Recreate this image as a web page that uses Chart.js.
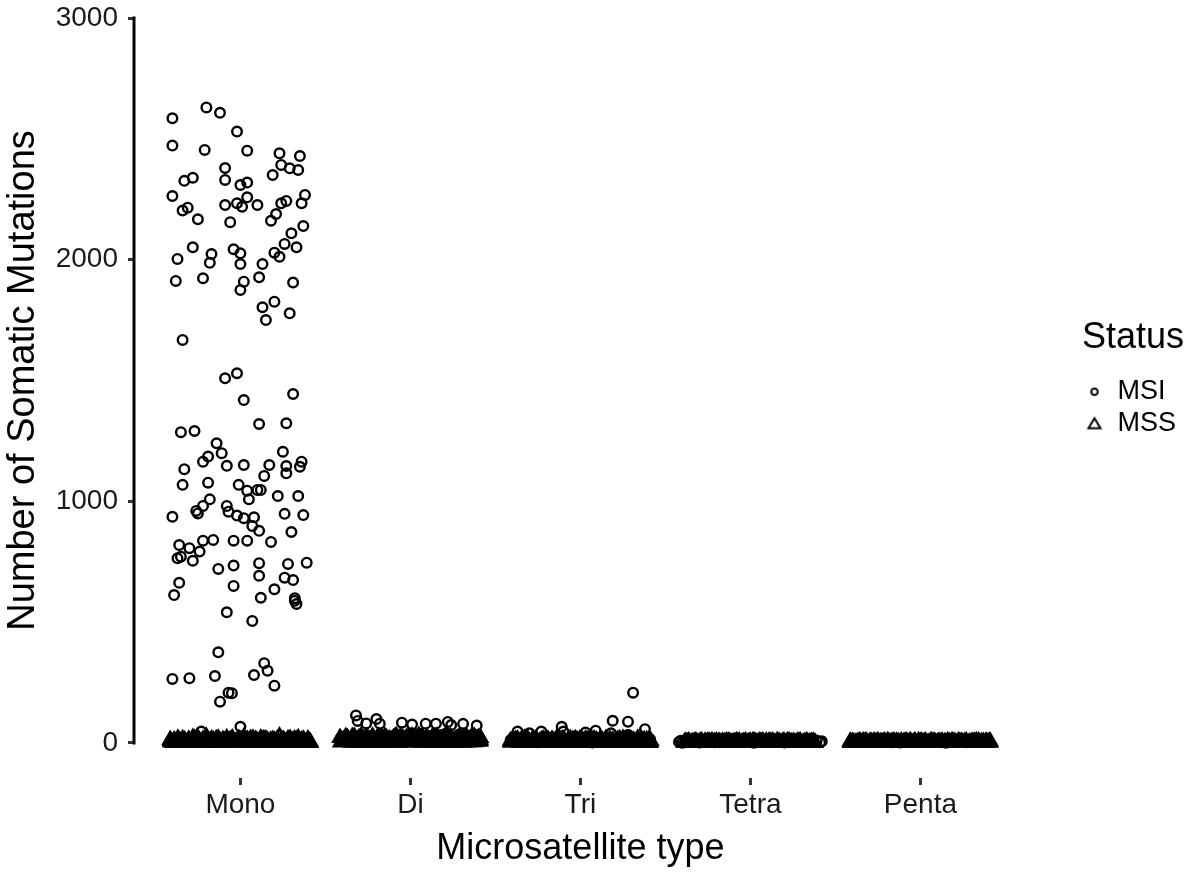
<!DOCTYPE html>
<html>
<head>
<meta charset="utf-8">
<script src="https://cdn.jsdelivr.net/npm/chart.js@4.4.0/dist/chart.umd.min.js"></script>
<style>
    body { margin: 0; background: #fff; }
    canvas { display: block; }
</style>
</head>
<body>
<canvas id="chart" width="1204" height="874"></canvas>
<script>
var categories = ["Mono", "Di", "Tri", "Tetra", "Penta"];
var yTicks = [0, 1000, 2000, 3000];
var xTitle = "Microsatellite type";
var yTitle = "Number of Somatic Mutations";

// each point: [jitter inside the category, number of somatic mutations]
var msiMono = [
    [-0.40,2585],[-0.20,2630],[-0.12,2608],[-0.02,2530],[-0.40,2472],[-0.21,2454],[0.04,2451],[0.23,2440],[0.35,2429],[0.24,2392],
    [0.29,2378],[0.34,2371],[-0.09,2379],[0.19,2350],[-0.28,2339],[-0.33,2326],[-0.09,2330],[0.00,2309],[0.04,2319],[-0.40,2263],
    [0.04,2258],[0.38,2268],[-0.02,2233],[-0.09,2226],[0.01,2219],[0.10,2226],[0.24,2233],[0.27,2243],[0.36,2233],[-0.31,2215],
    [-0.34,2203],[-0.25,2167],[-0.06,2155],[0.21,2189],[0.18,2161],[0.37,2139],[0.30,2109],[-0.28,2051],[-0.37,2003],[-0.17,2023],
    [-0.18,1987],[-0.04,2043],[0.00,2026],[0.00,1982],[0.26,2065],[0.33,2051],[0.20,2029],[0.23,2012],[0.13,1982],[-0.38,1912],
    [-0.22,1923],[0.11,1927],[0.02,1909],[0.00,1874],[0.31,1905],[0.13,1803],[0.20,1826],[0.15,1750],[0.29,1778],[-0.34,1668],
    [-0.09,1509],[-0.02,1530],[0.02,1419],[0.31,1444],
    [0.11,1320],[0.27,1323],[-0.35,1286],[-0.27,1291],[-0.14,1240],[-0.19,1185],[-0.22,1164],[-0.11,1199],[-0.08,1147],[0.02,1150],
    [0.17,1150],[0.14,1105],[0.25,1205],[0.27,1146],[0.27,1116],[0.36,1164],[0.35,1143],[-0.33,1133],[-0.34,1068],[-0.19,1077],
    [-0.01,1068],[0.04,1044],[0.10,1047],[0.12,1047],[0.05,1008],[0.22,1022],[0.34,1022],[-0.18,1008],[-0.22,981],[-0.26,960],
    [-0.25,950],[-0.40,936],[-0.08,981],[-0.07,957],[-0.02,941],[0.02,930],[0.08,934],[0.07,898],[0.11,878],[0.26,948],
    [0.37,943],[0.30,873],[0.18,832],[-0.36,819],[-0.30,806],[-0.22,837],[-0.16,840],[-0.04,837],[0.04,837],[-0.24,792],
    [-0.37,764],[-0.35,771],[-0.28,754],[-0.13,720],[-0.04,734],[0.11,744],[0.11,692],[0.28,741],[0.39,746],[0.26,684],
    [0.31,674],[-0.36,663],[-0.39,612],[-0.04,650],[0.20,636],[0.12,601],[0.32,599],[0.33,575],[0.32,588],[-0.08,541],
    [0.07,505],[-0.13,375],[-0.40,265],[-0.30,268],[-0.15,277],[0.08,281],[0.14,330],[0.16,299],[0.20,237],[-0.07,208],
    [-0.05,206],[-0.12,171],[-0.23,47],[0.00,67]
];
var msiDi = [
    [-0.32,114],[-0.31,91],[-0.26,81],[-0.20,99],[-0.18,80],[-0.05,84],[0.01,76],[0.09,80],[0.15,80],[0.22,87],[0.24,74],[0.31,79],[0.39,72],
    [-0.41,18],[-0.38,30],[-0.36,9],[-0.33,25],[-0.29,34],[-0.27,12],[-0.24,28],[-0.22,6],[-0.19,21],[-0.16,33],[-0.14,15],[-0.12,27],
    [-0.09,8],[-0.07,31],[-0.03,19],[-0.01,35],[0.02,11],[0.04,24],[0.06,32],[0.08,14],[0.11,29],[0.13,5],[0.17,22],[0.19,34],[0.20,13],
    [0.23,26],[0.26,17],[0.28,33],[0.30,10],[0.33,23],[0.35,30],[0.37,16],[0.40,27],[0.41,7]
];
var msiTri = [
    [0.31,208],[0.19,92],[0.28,88],[0.38,57],[-0.37,47],[-0.30,40],[-0.23,47],[-0.11,67],[-0.10,47],[0.03,43],[0.09,51],[0.18,40],[0.28,33],
    [-0.41,12],[-0.39,4],[-0.35,20],[-0.32,9],[-0.28,15],[-0.25,3],[-0.20,18],[-0.17,7],[-0.14,22],[-0.12,11],[-0.07,5],[-0.05,16],
    [-0.02,24],[0.00,8],[0.05,13],[0.07,2],[0.12,19],[0.14,6],[0.16,23],[0.21,10],[0.24,17],[0.26,4],[0.33,14],[0.35,21],[0.40,8],[0.41,15]
];
var msiTetra = [
    [-0.42,4],[-0.41,9],[-0.40,1],[-0.34,6],[-0.27,10],[-0.21,3],[-0.14,8],[-0.08,5],[-0.01,10],[0.06,4],[0.13,9],[0.20,2],
    [0.27,8],[0.33,5],[0.39,10],[0.41,3],[0.42,7],[-0.30,2],[0.02,1],[0.24,6]
];
var msiPenta = [
    [-0.38,8],[-0.30,5],[-0.23,10],[-0.17,3],[-0.10,9],[-0.03,6],[0.04,11],[0.10,4],[0.17,9],[0.24,7],[0.31,10],[0.37,5],
    [-0.12,2],[0.15,1],[0.28,3]
];

var mssMono = [
    [-0.41,4],[-0.39,11],[-0.37,0],[-0.35,7],[-0.34,16],[-0.32,2],[-0.30,9],[-0.28,21],[-0.27,5],[-0.25,13],[-0.23,1],[-0.21,8],
    [-0.20,25],[-0.18,3],[-0.16,12],[-0.14,6],[-0.13,18],[-0.11,0],[-0.09,10],[-0.07,4],[-0.05,15],[-0.04,7],[-0.02,1],[0.00,11],
    [0.02,23],[0.03,5],[0.05,9],[0.07,2],[0.09,14],[0.10,6],[0.12,19],[0.14,3],[0.16,10],[0.17,0],[0.19,13],[0.21,7],[0.23,28],
    [0.24,2],[0.26,9],[0.28,16],[0.30,4],[0.31,11],[0.33,1],[0.35,8],[0.37,14],[0.38,3],[0.40,6],[0.41,0],[-0.36,10],[-0.22,14],
    [-0.08,20],[0.06,17],[0.20,3],[0.34,20],[-0.29,1],[0.13,12],
    [-0.40,2],[-0.38,6],[-0.33,12],[-0.31,5],[-0.26,0],[-0.24,9],[-0.19,4],[-0.17,15],[-0.15,1],[-0.12,8],[-0.10,3],[-0.06,12],
    [-0.03,5],[-0.01,17],[0.01,3],[0.04,14],[0.06,0],[0.08,8],[0.11,2],[0.15,15],[0.18,5],[0.20,10],[0.22,1],[0.25,13],[0.27,4],
    [0.29,8],[0.32,15],[0.34,3],[0.36,11],[0.39,2],[0.40,12],[-0.41,9],[-0.27,18],[-0.14,11],[0.00,4],[0.15,6],[0.29,0],[0.37,7],
    [-0.413,13],[-0.392,1],[-0.368,18],[-0.343,3],[-0.327,9],[-0.304,14],[-0.283,6],[-0.266,11],[-0.248,17],[-0.222,4],[-0.207,12],
    [-0.183,8],[-0.168,2],[-0.142,16],[-0.126,5],[-0.103,13],[-0.087,1],[-0.062,9],[-0.047,19],[-0.023,6],[-0.008,14],[0.017,8],
    [0.033,1],[0.058,12],[0.074,18],[0.097,4],[0.113,10],[0.138,16],[0.152,2],[0.178,11],[0.193,7],[0.217,15],[0.238,4],[0.252,12],
    [0.277,1],[0.293,17],[0.318,7],[0.332,13],[0.357,2],[0.373,10],[0.397,15],[0.412,4]
];
var mssDi = [
    [-0.41,3],[-0.39,14],[-0.38,26],[-0.36,6],[-0.34,19],[-0.32,1],[-0.31,11],[-0.29,29],[-0.27,8],[-0.25,17],[-0.24,2],[-0.22,22],
    [-0.20,10],[-0.18,0],[-0.17,15],[-0.15,27],[-0.13,5],[-0.11,12],[-0.10,20],[-0.08,3],[-0.06,24],[-0.04,9],[-0.03,16],[-0.01,1],
    [0.01,28],[0.03,7],[0.04,13],[0.06,21],[0.08,4],[0.10,18],[0.11,0],[0.13,25],[0.15,10],[0.17,15],[0.18,2],[0.20,23],[0.22,8],
    [0.24,19],[0.25,5],[0.27,12],[0.29,27],[0.31,1],[0.32,16],[0.34,9],[0.36,22],[0.38,4],[0.39,14],[0.41,6],[-0.35,12],[-0.19,6],
    [0.05,30],[0.23,1],[0.37,18],[-0.05,13],
    [-0.40,9],[-0.37,20],[-0.35,2],[-0.33,27],[-0.30,15],[-0.28,4],[-0.26,24],[-0.23,12],[-0.21,1],[-0.19,28],[-0.16,8],[-0.14,19],
    [-0.12,2],[-0.09,26],[-0.07,14],[-0.05,5],[-0.02,22],[0.00,10],[0.02,17],[0.05,3],[0.07,26],[0.09,11],[0.12,6],[0.14,21],
    [0.16,0],[0.19,12],[0.21,29],[0.23,14],[0.26,3],[0.28,20],[0.30,8],[0.33,25],[0.35,4],[0.37,11],[0.40,21],[0.41,13],
    [-0.414,21],[-0.393,7],[-0.367,16],[-0.342,25],[-0.328,4],[-0.303,20],[-0.287,11],[-0.262,0],[-0.247,15],[-0.223,27],[-0.206,6],
    [-0.182,18],[-0.167,23],[-0.143,3],[-0.124,16],[-0.106,9],[-0.083,29],[-0.064,1],[-0.046,19],[-0.022,11],[-0.004,25],[0.016,6],
    [0.034,20],[0.057,15],[0.073,1],[0.096,24],[0.114,9],[0.133,17],[0.157,28],[0.172,5],[0.196,20],[0.213,12],[0.236,24],[0.254,0],
    [0.274,16],[0.297,9],[0.313,22],[0.336,3],[0.352,17],[0.377,26],[0.394,8],[0.413,20]
];
var mssTri = [
    [-0.41,2],[-0.39,9],[-0.37,15],[-0.36,0],[-0.34,6],[-0.32,12],[-0.30,3],[-0.28,17],[-0.27,8],[-0.25,1],[-0.23,11],[-0.21,5],
    [-0.19,14],[-0.18,0],[-0.16,7],[-0.14,18],[-0.12,3],[-0.10,10],[-0.09,1],[-0.07,13],[-0.05,6],[-0.03,16],[-0.01,2],[0.00,9],
    [0.02,0],[0.04,12],[0.06,4],[0.08,15],[0.09,7],[0.11,1],[0.13,10],[0.15,17],[0.17,3],[0.18,8],[0.20,0],[0.22,13],[0.24,5],
    [0.26,11],[0.27,2],[0.29,16],[0.31,6],[0.33,9],[0.35,1],[0.36,14],[0.38,4],[0.40,10],[0.41,0],[-0.33,18],[-0.20,9],[0.07,2],
    [0.25,18],[-0.06,11],
    [-0.40,6],[-0.38,13],[-0.35,3],[-0.33,9],[-0.31,16],[-0.29,1],[-0.26,11],[-0.24,5],[-0.22,15],[-0.20,2],[-0.17,12],[-0.15,4],
    [-0.13,14],[-0.11,7],[-0.08,0],[-0.06,17],[-0.04,8],[-0.02,12],[0.01,5],[0.03,15],[0.05,8],[0.07,11],[0.10,3],[0.12,14],
    [0.14,6],[0.16,0],[0.19,11],[0.21,5],[0.23,16],[0.25,8],[0.28,0],[0.30,12],[0.32,3],[0.34,15],[0.37,7],[0.39,12],[0.41,5],
    [-0.412,8],[-0.396,16],[-0.363,6],[-0.347,13],[-0.322,1],[-0.306,10],[-0.284,7],[-0.263,15],[-0.246,2],[-0.227,9],[-0.203,16],
    [-0.186,5],[-0.164,12],[-0.147,1],[-0.123,8],[-0.104,15],[-0.086,4],[-0.063,9],[-0.044,13],[-0.027,0],[-0.003,15],[0.014,10],
    [0.036,3],[0.053,14],[0.077,6],[0.093,12],[0.116,16],[0.134,2],[0.156,9],[0.173,14],[0.197,4],[0.214,8],[0.233,12],[0.256,1],
    [0.273,15],[0.296,5],[0.314,10],[0.337,17],[0.353,6],[0.376,12],[0.393,2],[0.414,9]
];
var mssTetra = [
    [-0.39,1],[-0.37,4],[-0.35,0],[-0.33,6],[-0.31,2],[-0.29,8],[-0.28,0],[-0.26,3],[-0.24,5],[-0.22,1],[-0.20,7],[-0.19,2],
    [-0.17,0],[-0.15,4],[-0.13,6],[-0.11,1],[-0.10,3],[-0.08,8],[-0.06,0],[-0.04,5],[-0.02,2],[0.00,6],[0.01,0],[0.03,4],
    [0.05,1],[0.07,7],[0.09,3],[0.10,0],[0.12,5],[0.14,2],[0.16,8],[0.18,1],[0.19,4],[0.21,0],[0.23,6],[0.25,2],[0.27,3],
    [0.28,7],[0.30,0],[0.32,4],[0.34,1],[0.36,5],[0.38,2],[-0.36,3],[-0.21,5],[-0.05,3],[0.11,7],[0.26,1],[0.35,0],
    [-0.38,6],[-0.36,1],[-0.34,3],[-0.32,7],[-0.30,4],[-0.27,1],[-0.25,7],[-0.23,3],[-0.21,0],[-0.18,5],[-0.16,2],[-0.14,7],
    [-0.12,3],[-0.09,5],[-0.07,2],[-0.03,7],[-0.01,4],[0.02,8],[0.04,2],[0.06,5],[0.08,0],[0.11,3],[0.13,7],[0.15,1],[0.17,5],
    [0.20,3],[0.22,8],[0.24,4],[0.27,0],[0.29,5],[0.31,2],[0.33,7],[0.35,3],[0.37,6],[0.38,0],
    [-0.386,3],[-0.364,7],[-0.347,2],[-0.323,5],[-0.306,0],[-0.284,4],[-0.267,6],[-0.243,2],[-0.226,8],[-0.204,1],[-0.187,4],
    [-0.163,6],[-0.146,0],[-0.124,5],[-0.107,2],[-0.083,4],[-0.066,7],[-0.043,1],[-0.027,5],[-0.004,3],[0.013,6],[0.037,1],
    [0.053,7],[0.076,4],[0.094,6],[0.117,1],[0.133,4],[0.156,6],[0.174,2],[0.197,7],[0.213,3],[0.236,0],[0.254,5],[0.277,2],
    [0.293,7],[0.316,1],[0.334,5],[0.357,2],[0.373,4]
];
var mssPenta = [
    [-0.41,0],[-0.40,5],[-0.38,2],[-0.36,7],[-0.34,1],[-0.33,4],[-0.31,0],[-0.29,6],[-0.27,3],[-0.25,8],[-0.24,1],[-0.22,5],
    [-0.20,0],[-0.18,3],[-0.16,7],[-0.15,2],[-0.13,4],[-0.11,0],[-0.09,6],[-0.07,1],[-0.06,8],[-0.04,3],[-0.02,0],[0.00,5],
    [0.02,2],[0.03,7],[0.05,0],[0.07,4],[0.09,1],[0.11,6],[0.12,3],[0.14,0],[0.16,8],[0.18,2],[0.20,5],[0.21,0],[0.23,4],
    [0.25,1],[0.27,7],[0.29,3],[0.30,0],[0.32,6],[0.34,2],[0.36,4],[0.38,0],[0.39,6],[0.41,1],[-0.35,3],[-0.19,6],[0.06,6],[0.22,2],
    [-0.41,4],[-0.39,1],[-0.37,4],[-0.35,0],[-0.32,8],[-0.30,3],[-0.28,1],[-0.26,5],[-0.23,2],[-0.21,7],[-0.19,0],[-0.17,4],
    [-0.14,6],[-0.12,1],[-0.10,3],[-0.08,7],[-0.05,2],[-0.03,5],[-0.01,8],[0.01,3],[0.04,0],[0.06,2],[0.08,7],[0.10,3],[0.13,5],
    [0.15,2],[0.17,4],[0.19,7],[0.22,1],[0.24,6],[0.26,3],[0.28,0],[0.31,4],[0.33,8],[0.35,1],[0.37,5],[0.40,3],[0.41,7],
    [-0.413,6],[-0.394,3],[-0.377,0],[-0.353,5],[-0.336,7],[-0.313,2],[-0.297,4],[-0.273,7],[-0.256,1],[-0.233,4],[-0.217,2],
    [-0.193,8],[-0.176,1],[-0.153,5],[-0.137,2],[-0.113,7],[-0.096,4],[-0.073,0],[-0.057,5],[-0.033,7],[-0.016,2],[0.007,6],
    [0.023,4],[0.047,1],[0.063,8],[0.087,3],[0.103,1],[0.127,6],[0.143,4],[0.167,0],[0.183,6],[0.207,2],[0.223,7],[0.247,3],
    [0.263,5],[0.287,1],[0.303,6],[0.327,3],[0.343,7],[0.367,1],[0.383,4],[0.406,5]
];

var msiGroups = [msiMono, msiDi, msiTri, msiTetra, msiPenta];
var mssGroups = [mssMono, mssDi, mssTri, mssTetra, mssPenta];

var fontFamily = "'Liberation Sans', Arial, sans-serif";
var catPx = 170;
var xMin = -0.62;

function toPoints(groups) {
    var pts = [];
    for (var i = 0; i < groups.length; i++) {
        for (var j = 0; j < groups[i].length; j++) {
            pts.push({ x: i + groups[i][j][0], y: groups[i][j][1] });
        }
    }
    return pts;
}

// small legend keys: ggplot draws the triangle key wider than the circle
function legendKey(shape) {
    var cv = document.createElement("canvas");
    cv.width = 20;
    cv.height = 20;
    var g = cv.getContext("2d");
    g.strokeStyle = "#000";
    g.lineWidth = 2;
    g.beginPath();
    if (shape == "circle") {
        g.arc(10, 10, 3.3, 0, Math.PI * 2);
    } else {
        g.moveTo(10, 4.5);
        g.lineTo(16, 14.5);
        g.lineTo(4, 14.5);
        g.closePath();
    }
    g.stroke();
    return cv;
}
var legendKeys = [legendKey("circle"), legendKey("triangle")];

// capped y axis line + axis titles centred on the data range
var axisExtras = {
    id: "axisExtras",
    afterDraw: function (chart) {
        var x = chart.scales.x;
        var y = chart.scales.y;
        var c = chart.ctx;
        var yTop = y.getPixelForValue(yTicks[yTicks.length - 1]);
        var yBottom = y.getPixelForValue(yTicks[0]);
        var x0 = chart.chartArea.left - 1;
        c.save();
        c.strokeStyle = "#000";
        c.lineWidth = 3;
        c.beginPath();
        c.moveTo(x0, yTop - 1.5);
        c.lineTo(x0, yBottom + 1.5);
        c.stroke();

        c.fillStyle = "#000";
        c.textAlign = "center";
        c.textBaseline = "middle";
        c.font = "36px " + fontFamily;
        c.fillText(xTitle, (x.getPixelForValue(0) + x.getPixelForValue(categories.length - 1)) / 2, 849);

        c.translate(24, (yTop + yBottom) / 2);
        c.rotate(-Math.PI / 2);
        c.font = "38px " + fontFamily;
        c.fillText(yTitle, 0, 0);
        c.restore();
    }
};

var chart = new Chart("chart", {
    type: "scatter",
    data: {
        datasets: [{
            label: "MSI",
            data: toPoints(msiGroups),
            pointStyle: "circle",
            pointRadius: 4.8,
            pointBorderWidth: 2.4,
            pointBorderColor: "#000",
            pointBackgroundColor: "rgba(0,0,0,0)"
        }, {
            label: "MSS",
            data: toPoints(mssGroups),
            pointStyle: "triangle",
            pointRadius: 7.3,
            pointBorderWidth: 3,
            pointBorderColor: "#000",
            pointBackgroundColor: "rgba(0,0,0,0)"
        }]
    },
    options: {
        responsive: false,
        animation: false,
        events: [],
        clip: false,
        layout: { padding: { top: 18, right: 18, bottom: 0, left: 0 } },
        plugins: {
            tooltip: { enabled: false },
            legend: {
                position: "right",
                align: "start",
                title: { display: true, text: "Status", color: "#000", font: { family: fontFamily, size: 36 }, padding: { top: 302, bottom: 10 } },
                labels: {
                    usePointStyle: true,
                    boxWidth: 19,
                    boxHeight: 7,
                    padding: 5,
                    color: "#000",
                    font: { family: fontFamily, size: 27 },
                    generateLabels: function (chart) {
                        var items = Chart.defaults.plugins.legend.labels.generateLabels(chart);
                        items.forEach(function (item, i) { item.pointStyle = legendKeys[i]; });
                        return items;
                    }
                }
            }
        },
        scales: {
            x: {
                type: "linear",
                min: xMin,
                max: 4.6,
                afterBuildTicks: function (axis) {
                    axis.ticks = categories.map(function (c, i) { return { value: i }; });
                },
                afterFit: function (axis) {
                    axis.height = 96;
                    axis.paddingLeft = 0;
                    axis.paddingRight = 0;
                },
                border: { display: false },
                grid: { drawOnChartArea: false, tickLength: 7, tickWidth: 3, tickColor: "#333" },
                ticks: {
                    autoSkip: false,
                    maxRotation: 0,
                    padding: 3,
                    color: "#1a1a1a",
                    font: { family: fontFamily, size: 28 },
                    callback: function (v) { return categories[v]; }
                }
            },
            y: {
                type: "linear",
                min: -145,
                max: 3000,
                afterBuildTicks: function (axis) {
                    axis.ticks = yTicks.map(function (v) { return { value: v }; });
                },
                afterFit: function (axis) {
                    axis.width = 135;
                    axis.paddingTop = 0;
                    axis.paddingBottom = 0;
                },
                border: { display: false },
                grid: { drawOnChartArea: false, tickLength: 7, tickWidth: 3, tickColor: "#333" },
                ticks: {
                    padding: 10,
                    color: "#1a1a1a",
                    font: { family: fontFamily, size: 28 },
                    callback: function (v) { return String(v); }
                }
            }
        }
    },
    plugins: [axisExtras]
});

// keep 170 px per category whatever width the legend takes
chart.options.scales.x.max = xMin + (chart.chartArea.right - chart.chartArea.left) / catPx;
chart.update();
</script>
</body>
</html>
